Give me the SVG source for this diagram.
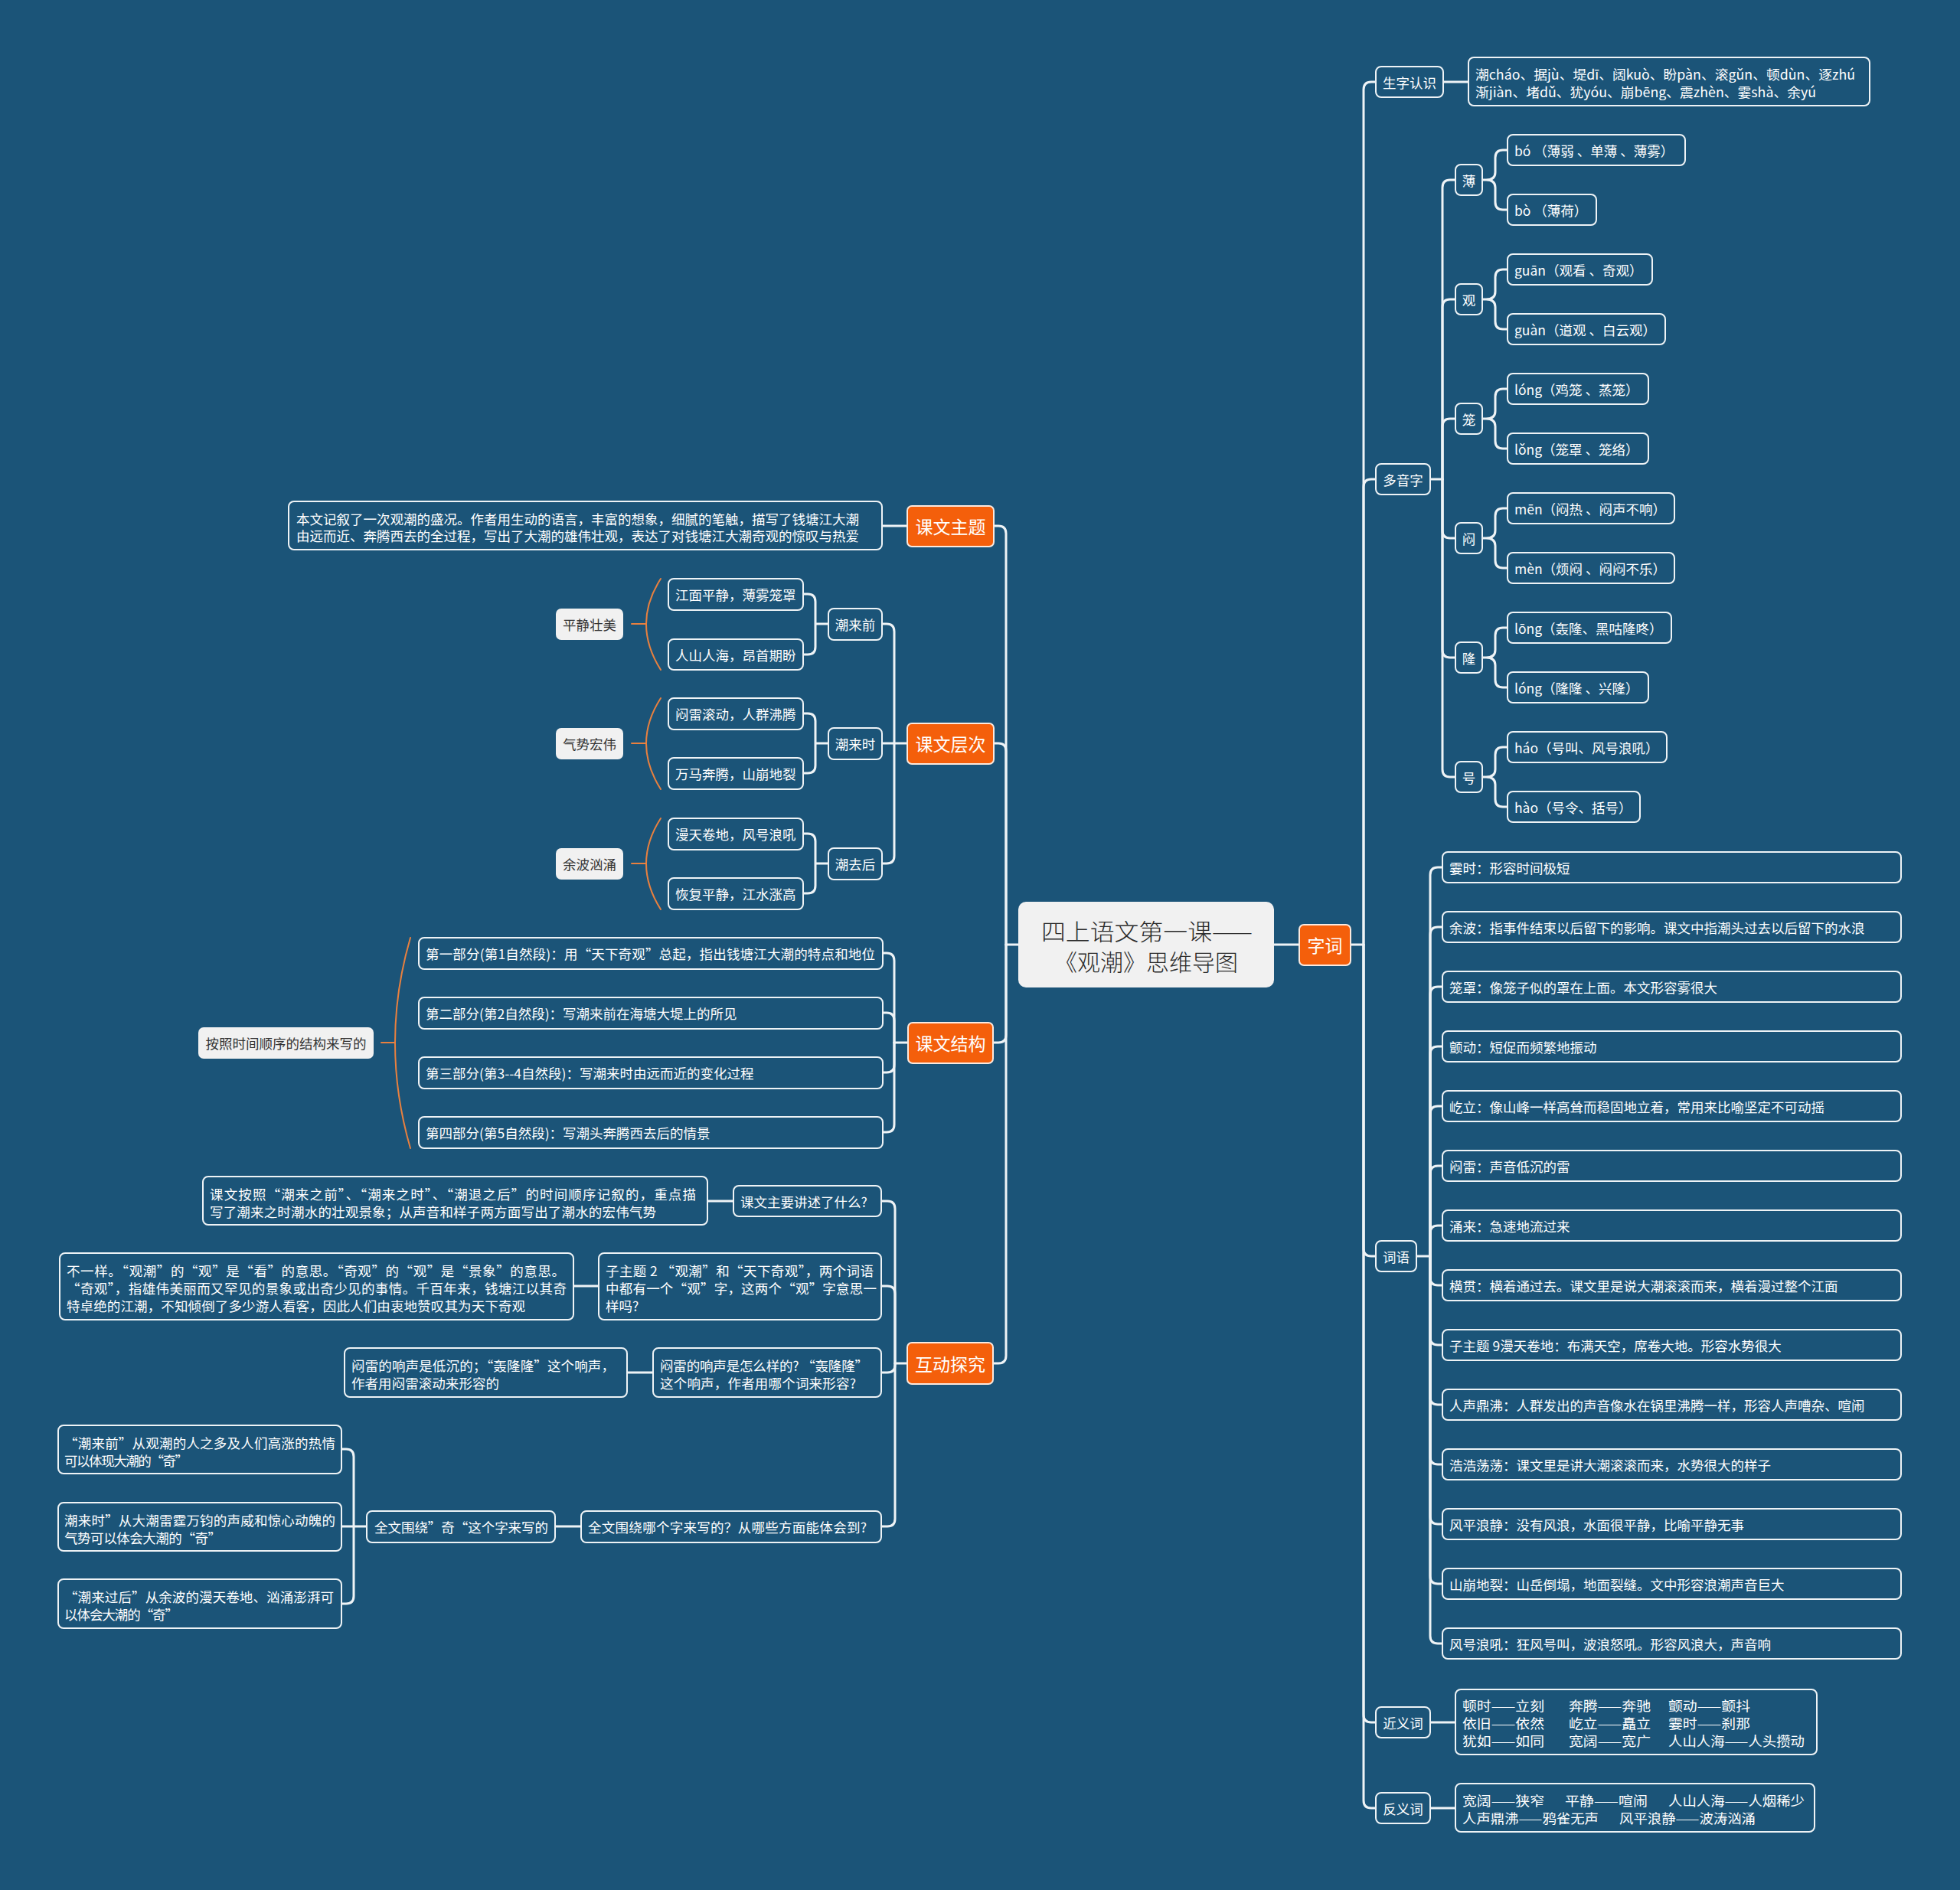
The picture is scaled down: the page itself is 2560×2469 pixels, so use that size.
<svg xmlns="http://www.w3.org/2000/svg" width="2560" height="2469" viewBox="0 0 2560 2469">
<style>
text{font-family:"Noto Sans CJK SC","Noto Sans",sans-serif;fill:#ffffff;font-size:17.5px;dominant-baseline:central}
.n{fill:#1b5478;stroke:#eef3f6;stroke-width:2}
.o{fill:#f45f0b;stroke:#fbe9de;stroke-width:2}
.w{fill:#f1f1f1}
.c{fill:#f1f1f1}
.m{text-anchor:middle}
.to{font-size:23px;text-anchor:middle}
.td{fill:#333333}
.ct{fill:#2b2b2b;font-size:30px;text-anchor:middle;font-weight:300}
#connectors path{fill:none;stroke:#eef3f6;stroke-width:3;stroke-linecap:round;stroke-linejoin:round}
#connectors path.s{stroke:#e8803f;stroke-width:2}
</style>
<rect x="0" y="0" width="2560" height="2469" fill="#1b5478"/>

<g id="connectors">
<path d="M1664,1234 H1697"/>
<path d="M1764,1234 H1781"/>
<path d="M1781,1234 V117 Q1781,107 1791,107 H1797"/>
<path d="M1781,1234 V636 Q1781,626 1791,626 H1797"/>
<path d="M1781,1234 V1631 Q1781,1641 1791,1641 H1797"/>
<path d="M1781,1234 V2240 Q1781,2250 1791,2250 H1797"/>
<path d="M1781,1234 V2352 Q1781,2362 1791,2362 H1797"/>
<path d="M1885,107 H1918"/>
<path d="M1868,626 H1884"/>
<path d="M1884,626 V245 Q1884,235 1894,235 H1901"/>
<path d="M1884,626 V401 Q1884,391 1894,391 H1901"/>
<path d="M1884,626 V557 Q1884,547 1894,547 H1901"/>
<path d="M1884,626 V693 Q1884,703 1894,703 H1901"/>
<path d="M1884,626 V849 Q1884,859 1894,859 H1901"/>
<path d="M1884,626 V1005 Q1884,1015 1894,1015 H1901"/>
<path d="M1936,235 H1941 Q1953,235 1953,225 V206 Q1953,196 1963,196 H1969 M1941,235 Q1953,235 1953,245 V264 Q1953,274 1963,274 H1969"/>
<path d="M1936,391 H1941 Q1953,391 1953,381 V362 Q1953,352 1963,352 H1969 M1941,391 Q1953,391 1953,401 V420 Q1953,430 1963,430 H1969"/>
<path d="M1936,547 H1941 Q1953,547 1953,537 V518 Q1953,508 1963,508 H1969 M1941,547 Q1953,547 1953,557 V576 Q1953,586 1963,586 H1969"/>
<path d="M1936,703 H1941 Q1953,703 1953,693 V674 Q1953,664 1963,664 H1969 M1941,703 Q1953,703 1953,713 V732 Q1953,742 1963,742 H1969"/>
<path d="M1936,859 H1941 Q1953,859 1953,849 V830 Q1953,820 1963,820 H1969 M1941,859 Q1953,859 1953,869 V888 Q1953,898 1963,898 H1969"/>
<path d="M1936,1015 H1941 Q1953,1015 1953,1005 V986 Q1953,976 1963,976 H1969 M1941,1015 Q1953,1015 1953,1025 V1044 Q1953,1054 1963,1054 H1969"/>
<path d="M1850,1641 H1868"/>
<path d="M1868,1641 V1143 Q1868,1133 1878,1133 H1884"/>
<path d="M1868,1641 V1221 Q1868,1211 1878,1211 H1884"/>
<path d="M1868,1641 V1299 Q1868,1289 1878,1289 H1884"/>
<path d="M1868,1641 V1377 Q1868,1367 1878,1367 H1884"/>
<path d="M1868,1641 V1455 Q1868,1445 1878,1445 H1884"/>
<path d="M1868,1641 V1533 Q1868,1523 1878,1523 H1884"/>
<path d="M1868,1641 V1611 Q1868,1601 1878,1601 H1884"/>
<path d="M1868,1641 V1669 Q1868,1679 1878,1679 H1884"/>
<path d="M1868,1641 V1747 Q1868,1757 1878,1757 H1884"/>
<path d="M1868,1641 V1825 Q1868,1835 1878,1835 H1884"/>
<path d="M1868,1641 V1903 Q1868,1913 1878,1913 H1884"/>
<path d="M1868,1641 V1981 Q1868,1991 1878,1991 H1884"/>
<path d="M1868,1641 V2059 Q1868,2069 1878,2069 H1884"/>
<path d="M1868,1641 V2137 Q1868,2147 1878,2147 H1884"/>
<path d="M1868,2250 H1901"/>
<path d="M1868,2362 H1901"/>
<path d="M1330,1234 H1314"/>
<path d="M1314,1234 V697 Q1314,687 1304,687 H1298"/>
<path d="M1314,1234 V981 Q1314,971 1304,971 H1298"/>
<path d="M1314,1234 V1352 Q1314,1362 1304,1362 H1298"/>
<path d="M1314,1234 V1771 Q1314,1781 1304,1781 H1298"/>
<path d="M1185,687 H1152"/>
<path d="M1185,971 H1152"/>
<path d="M1168,971 V825 Q1168,815 1158,815 H1152"/>
<path d="M1168,971 V1118 Q1168,1128 1158,1128 H1152"/>
<path d="M1082,815 H1065 M1065,815 V786 Q1065,776 1055,776 H1049 M1065,815 V845 Q1065,855 1055,855 H1049"/>
<path d="M1082,971 H1065 M1065,971 V942 Q1065,932 1055,932 H1049 M1065,971 V1000 Q1065,1010 1055,1010 H1049"/>
<path d="M1082,1128 H1065 M1065,1128 V1099 Q1065,1089 1055,1089 H1049 M1065,1128 V1157 Q1065,1167 1055,1167 H1049"/>
<path d="M1186,1362 H1168"/>
<path d="M1168,1362 V1255 Q1168,1245 1158,1245 H1153"/>
<path d="M1168,1362 V1333 Q1168,1323 1158,1323 H1153"/>
<path d="M1168,1362 V1391 Q1168,1401 1158,1401 H1153"/>
<path d="M1168,1362 V1469 Q1168,1479 1158,1479 H1153"/>
<path d="M1185,1781 H1169"/>
<path d="M1169,1781 V1579 Q1169,1569 1159,1569 H1151"/>
<path d="M1169,1781 V1690 Q1169,1680 1159,1680 H1151"/>
<path d="M1169,1781 V1783 Q1169,1793 1159,1793 H1151"/>
<path d="M1169,1781 V1984 Q1169,1994 1159,1994 H1151"/>
<path d="M958,1569 H924"/>
<path d="M782,1680 H749"/>
<path d="M853,1793 H819"/>
<path d="M759,1994 H725"/>
<path d="M479,1994 H446"/>
<path d="M462,1994 V1903 Q462,1893 452,1893 H446"/>
<path d="M462,1994 V2085 Q462,2095 452,2095 H446"/>
<path class="s" d="M863,756 Q825,815 863,875 M825,815 H844"/>
<path class="s" d="M863,912 Q825,971 863,1031 M825,971 H844"/>
<path class="s" d="M863,1069 Q825,1128 863,1188 M825,1128 H844"/>
<path class="s" d="M536,1225 Q496,1362 536,1500 M498,1362 H516"/>
</g>

<g id="center"><rect class="c" x="1330" y="1178" width="334" height="112" rx="10"/>
<text class="ct" x="1498" y="1215" textLength="276" lengthAdjust="spacingAndGlyphs">四上语文第一课——</text><text class="ct" x="1497" y="1255">《观潮》思维导图</text></g>

<g id="n-ziici"><rect class="o" x="1697" y="1208" width="67" height="53" rx="6"/><text class="to" x="1730.5" y="1234">字词</text></g>
<g id="n-shengzi"><rect class="n" x="1797" y="87" width="88" height="40" rx="7"/><text class="m" x="1841" y="107">生字认识</text></g>
<g id="n-shengzi-c"><rect class="n" x="1918" y="75" width="524" height="63" rx="7"/>
<text x="1927" y="96" textLength="496" lengthAdjust="spacingAndGlyphs">潮cháo、据jù、堤dī、阔kuò、盼pàn、滚gǔn、顿dùn、逐zhú</text>
<text x="1927" y="119" textLength="445" lengthAdjust="spacingAndGlyphs">渐jiàn、堵dǔ、犹yóu、崩bēng、震zhèn、霎shà、余yú</text></g>
<g id="n-duoyin"><rect class="n" x="1797" y="606" width="71" height="40" rx="7"/><text class="m" x="1832.5" y="626">多音字</text></g>

<g id="n-bao"><rect class="n" x="1901" y="215" width="35" height="40" rx="7"/><text class="m" x="1918.5" y="235">薄</text></g>
<g id="n-bao1"><rect class="n" x="1969" y="176" width="232" height="40" rx="7"/><text x="1978" y="196">bó （薄弱 、单薄 、薄雾）</text></g>
<g id="n-bao2"><rect class="n" x="1969" y="254" width="116" height="40" rx="7"/><text x="1978" y="274">bò （薄荷）</text></g>
<g id="n-guan"><rect class="n" x="1901" y="371" width="35" height="40" rx="7"/><text class="m" x="1918.5" y="391">观</text></g>
<g id="n-guan1"><rect class="n" x="1969" y="332" width="189" height="40" rx="7"/><text x="1978" y="352">guān（观看 、奇观）</text></g>
<g id="n-guan2"><rect class="n" x="1969" y="410" width="206" height="40" rx="7"/><text x="1978" y="430">guàn（道观 、白云观）</text></g>
<g id="n-long"><rect class="n" x="1901" y="527" width="35" height="40" rx="7"/><text class="m" x="1918.5" y="547">笼</text></g>
<g id="n-long1"><rect class="n" x="1969" y="488" width="184" height="40" rx="7"/><text x="1978" y="508">lóng（鸡笼 、蒸笼）</text></g>
<g id="n-long2"><rect class="n" x="1969" y="566" width="184" height="40" rx="7"/><text x="1978" y="586">lǒng（笼罩 、笼络）</text></g>
<g id="n-men"><rect class="n" x="1901" y="683" width="35" height="40" rx="7"/><text class="m" x="1918.5" y="703">闷</text></g>
<g id="n-men1"><rect class="n" x="1969" y="644" width="218" height="40" rx="7"/><text x="1978" y="664">mēn（闷热 、闷声不响）</text></g>
<g id="n-men2"><rect class="n" x="1969" y="722" width="218" height="40" rx="7"/><text x="1978" y="742">mèn（烦闷 、闷闷不乐）</text></g>
<g id="n-longg"><rect class="n" x="1901" y="839" width="35" height="40" rx="7"/><text class="m" x="1918.5" y="859">隆</text></g>
<g id="n-longg1"><rect class="n" x="1969" y="800" width="214" height="40" rx="7"/><text x="1978" y="820">lōng（轰隆、黑咕隆咚）</text></g>
<g id="n-longg2"><rect class="n" x="1969" y="878" width="184" height="40" rx="7"/><text x="1978" y="898">lóng（隆隆 、兴隆）</text></g>
<g id="n-hao"><rect class="n" x="1901" y="995" width="35" height="40" rx="7"/><text class="m" x="1918.5" y="1015">号</text></g>
<g id="n-hao1"><rect class="n" x="1969" y="956" width="208" height="40" rx="7"/><text x="1978" y="976">háo（号叫、风号浪吼）</text></g>
<g id="n-hao2"><rect class="n" x="1969" y="1034" width="173" height="40" rx="7"/><text x="1978" y="1054">hào（号令、括号）</text></g>

<g id="n-ciyu"><rect class="n" x="1797" y="1621" width="53" height="40" rx="7"/><text class="m" x="1823.5" y="1641">词语</text></g>
<g id="n-c1"><rect class="n" x="1884" y="1113" width="599" height="40" rx="7"/><text x="1893" y="1133">霎时：形容时间极短</text></g>
<g id="n-c2"><rect class="n" x="1884" y="1191" width="599" height="40" rx="7"/><text x="1893" y="1211">余波：指事件结束以后留下的影响。课文中指潮头过去以后留下的水浪</text></g>
<g id="n-c3"><rect class="n" x="1884" y="1269" width="599" height="40" rx="7"/><text x="1893" y="1289">笼罩：像笼子似的罩在上面。本文形容雾很大</text></g>
<g id="n-c4"><rect class="n" x="1884" y="1347" width="599" height="40" rx="7"/><text x="1893" y="1367">颤动：短促而频繁地振动</text></g>
<g id="n-c5"><rect class="n" x="1884" y="1425" width="599" height="40" rx="7"/><text x="1893" y="1445">屹立：像山峰一样高耸而稳固地立着，常用来比喻坚定不可动摇</text></g>
<g id="n-c6"><rect class="n" x="1884" y="1503" width="599" height="40" rx="7"/><text x="1893" y="1523">闷雷：声音低沉的雷</text></g>
<g id="n-c7"><rect class="n" x="1884" y="1581" width="599" height="40" rx="7"/><text x="1893" y="1601">涌来：急速地流过来</text></g>
<g id="n-c8"><rect class="n" x="1884" y="1659" width="599" height="40" rx="7"/><text x="1893" y="1679">横贯：横着通过去。课文里是说大潮滚滚而来，横着漫过整个江面</text></g>
<g id="n-c9"><rect class="n" x="1884" y="1737" width="599" height="40" rx="7"/><text x="1893" y="1757">子主题 9漫天卷地：布满天空，席卷大地。形容水势很大</text></g>
<g id="n-c10"><rect class="n" x="1884" y="1815" width="599" height="40" rx="7"/><text x="1893" y="1835">人声鼎沸：人群发出的声音像水在锅里沸腾一样，形容人声嘈杂、喧闹</text></g>
<g id="n-c11"><rect class="n" x="1884" y="1893" width="599" height="40" rx="7"/><text x="1893" y="1913">浩浩荡荡：课文里是讲大潮滚滚而来，水势很大的样子</text></g>
<g id="n-c12"><rect class="n" x="1884" y="1971" width="599" height="40" rx="7"/><text x="1893" y="1991">风平浪静：没有风浪，水面很平静，比喻平静无事</text></g>
<g id="n-c13"><rect class="n" x="1884" y="2049" width="599" height="40" rx="7"/><text x="1893" y="2069">山崩地裂：山岳倒塌，地面裂缝。文中形容浪潮声音巨大</text></g>
<g id="n-c14"><rect class="n" x="1884" y="2127" width="599" height="40" rx="7"/><text x="1893" y="2147">风号浪吼：狂风号叫，波浪怒吼。形容风浪大，声音响</text></g>

<g id="n-jinyi"><rect class="n" x="1797" y="2230" width="71" height="40" rx="7"/><text class="m" x="1832.5" y="2250">近义词</text></g>
<g id="n-jinyi-c"><rect class="n" x="1901" y="2207" width="472" height="85" rx="7"/>
<text x="1910" y="2227" textLength="107" lengthAdjust="spacingAndGlyphs">顿时——立刻</text><text x="2049" y="2227" textLength="107" lengthAdjust="spacingAndGlyphs">奔腾——奔驰</text><text x="2179" y="2227" textLength="107" lengthAdjust="spacingAndGlyphs">颤动——颤抖</text>
<text x="1910" y="2250" textLength="107" lengthAdjust="spacingAndGlyphs">依旧——依然</text><text x="2049" y="2250" textLength="107" lengthAdjust="spacingAndGlyphs">屹立——矗立</text><text x="2179" y="2250" textLength="107" lengthAdjust="spacingAndGlyphs">霎时——刹那</text>
<text x="1910" y="2273" textLength="107" lengthAdjust="spacingAndGlyphs">犹如——如同</text><text x="2049" y="2273" textLength="107" lengthAdjust="spacingAndGlyphs">宽阔——宽广</text><text x="2179" y="2273" textLength="178" lengthAdjust="spacingAndGlyphs">人山人海——人头攒动</text></g>
<g id="n-fanyi"><rect class="n" x="1797" y="2342" width="71" height="40" rx="7"/><text class="m" x="1832.5" y="2362">反义词</text></g>
<g id="n-fanyi-c"><rect class="n" x="1901" y="2330" width="469" height="63" rx="7"/>
<text x="1910" y="2351" textLength="107" lengthAdjust="spacingAndGlyphs">宽阔——狭窄</text><text x="2044" y="2351" textLength="108" lengthAdjust="spacingAndGlyphs">平静——喧闹</text><text x="2179" y="2351" textLength="178" lengthAdjust="spacingAndGlyphs">人山人海——人烟稀少</text>
<text x="1910" y="2374" textLength="178" lengthAdjust="spacingAndGlyphs">人声鼎沸——鸦雀无声</text><text x="2115" y="2374" textLength="178" lengthAdjust="spacingAndGlyphs">风平浪静——波涛汹涌</text></g>

<g id="n-zhuti"><rect class="o" x="1185" y="661" width="113" height="53" rx="6"/><text class="to" x="1241.5" y="687">课文主题</text></g>
<g id="n-zhuti-c"><rect class="n" x="377" y="655" width="775" height="63" rx="7"/>
<text x="387" y="677">本文记叙了一次观潮的盛况。作者用生动的语言，丰富的想象，细腻的笔触，描写了钱塘江大潮</text>
<text x="387" y="699">由远而近、奔腾西去的全过程，写出了大潮的雄伟壮观，表达了对钱塘江大潮奇观的惊叹与热爱</text></g>

<g id="n-cengci"><rect class="o" x="1185" y="945" width="113" height="53" rx="6"/><text class="to" x="1241.5" y="971">课文层次</text></g>
<g id="n-qian"><rect class="n" x="1082" y="795" width="70" height="41" rx="7"/><text class="m" x="1117" y="815">潮来前</text></g>
<g id="n-qian1"><rect class="n" x="873" y="756" width="176" height="41" rx="7"/><text x="882" y="776">江面平静，薄雾笼罩</text></g>
<g id="n-qian2"><rect class="n" x="873" y="835" width="176" height="40" rx="7"/><text x="882" y="855">人山人海，昂首期盼</text></g>
<g id="n-qian-s"><rect class="w" x="726" y="795" width="88" height="41" rx="7"/><text class="m td" x="770" y="815">平静壮美</text></g>
<g id="n-shi"><rect class="n" x="1082" y="951" width="70" height="41" rx="7"/><text class="m" x="1117" y="971">潮来时</text></g>
<g id="n-shi1"><rect class="n" x="873" y="912" width="176" height="41" rx="7"/><text x="882" y="932">闷雷滚动，人群沸腾</text></g>
<g id="n-shi2"><rect class="n" x="873" y="990" width="176" height="41" rx="7"/><text x="882" y="1010">万马奔腾，山崩地裂</text></g>
<g id="n-shi-s"><rect class="w" x="726" y="951" width="88" height="41" rx="7"/><text class="m td" x="770" y="971">气势宏伟</text></g>
<g id="n-hou"><rect class="n" x="1082" y="1108" width="70" height="41" rx="7"/><text class="m" x="1117" y="1128">潮去后</text></g>
<g id="n-hou1"><rect class="n" x="873" y="1069" width="176" height="41" rx="7"/><text x="882" y="1089">漫天卷地，风号浪吼</text></g>
<g id="n-hou2"><rect class="n" x="873" y="1147" width="176" height="41" rx="7"/><text x="882" y="1167">恢复平静，江水涨高</text></g>
<g id="n-hou-s"><rect class="w" x="726" y="1108" width="88" height="41" rx="7"/><text class="m td" x="770" y="1128">余波汹涌</text></g>

<g id="n-jiegou"><rect class="o" x="1186" y="1336" width="111" height="53" rx="6"/><text class="to" x="1241.5" y="1362">课文结构</text></g>
<g id="n-j1"><rect class="n" x="547" y="1225" width="606" height="41" rx="7"/><text x="556" y="1245" textLength="587">第一部分(第1自然段)：用“天下奇观”总起，指出钱塘江大潮的特点和地位</text></g>
<g id="n-j2"><rect class="n" x="547" y="1303" width="606" height="41" rx="7"/><text x="556" y="1323">第二部分(第2自然段)：写潮来前在海塘大堤上的所见</text></g>
<g id="n-j3"><rect class="n" x="547" y="1381" width="606" height="41" rx="7"/><text x="556" y="1401">第三部分(第3--4自然段)：写潮来时由远而近的变化过程</text></g>
<g id="n-j4"><rect class="n" x="547" y="1459" width="606" height="41" rx="7"/><text x="556" y="1479">第四部分(第5自然段)：写潮头奔腾西去后的情景</text></g>
<g id="n-j-s"><rect class="w" x="259" y="1342" width="229" height="41" rx="7"/><text class="m td" x="373.5" y="1362">按照时间顺序的结构来写的</text></g>

<g id="n-hudong"><rect class="o" x="1185" y="1754" width="112" height="54" rx="6"/><text class="to" x="1241" y="1781">互动探究</text></g>
<g id="n-q1"><rect class="n" x="958" y="1549" width="193" height="40" rx="7"/><text x="967" y="1569">课文主要讲述了什么?</text></g>
<g id="n-a1"><rect class="n" x="265" y="1537" width="659" height="63" rx="7"/>
<text x="274" y="1559" textLength="635">课文按照“潮来之前”、“潮来之时”、“潮退之后”的时间顺序记叙的，重点描</text>
<text x="274" y="1582" textLength="583">写了潮来之时潮水的壮观景象；从声音和样子两方面写出了潮水的宏伟气势</text></g>
<g id="n-q2"><rect class="n" x="782" y="1637" width="369" height="87" rx="7"/>
<text x="791" y="1659" textLength="350">子主题 2 “观潮”和“天下奇观”，两个词语</text>
<text x="791" y="1682" textLength="354">中都有一个“观”字，这两个“观”字意思一</text>
<text x="791" y="1705">样吗?</text></g>
<g id="n-a2"><rect class="n" x="78" y="1637" width="671" height="87" rx="7"/>
<text x="87" y="1659" textLength="651">不一样。“观潮”的“观”是“看”的意思。“奇观”的“观”是“景象”的意思。</text>
<text x="87" y="1682" textLength="653">“奇观”，指雄伟美丽而又罕见的景象或出奇少见的事情。千百年来，钱塘江以其奇</text>
<text x="87" y="1705" textLength="599">特卓绝的江潮，不知倾倒了多少游人看客，因此人们由衷地赞叹其为天下奇观</text></g>
<g id="n-q3"><rect class="n" x="853" y="1761" width="298" height="64" rx="7"/>
<text x="862" y="1783" textLength="272">闷雷的响声是怎么样的? “轰隆隆”</text>
<text x="862" y="1806" textLength="256">这个响声，作者用哪个词来形容?</text></g>
<g id="n-a3"><rect class="n" x="450" y="1761" width="369" height="64" rx="7"/>
<text x="459" y="1783" textLength="344">闷雷的响声是低沉的；“轰隆隆”这个响声，</text>
<text x="459" y="1806" textLength="193">作者用闷雷滚动来形容的</text></g>
<g id="n-q4"><rect class="n" x="759" y="1974" width="392" height="41" rx="7"/><text x="768" y="1994" textLength="364">全文围绕哪个字来写的？从哪些方面能体会到?</text></g>
<g id="n-a4"><rect class="n" x="479" y="1974" width="246" height="41" rx="7"/><text x="489" y="1994" textLength="227">全文围绕”奇“这个字来写的</text></g>
<g id="n-a4-1"><rect class="n" x="76" y="1862" width="370" height="63" rx="7"/>
<text x="84" y="1884" textLength="354">“潮来前”从观潮的人之多及人们高涨的热情</text>
<text x="84" y="1907" textLength="162">可以体现大潮的“奇”</text></g>
<g id="n-a4-2"><rect class="n" x="76" y="1963" width="370" height="63" rx="7"/>
<text x="84" y="1985" textLength="354">潮来时”从大潮雷霆万钧的声威和惊心动魄的</text>
<text x="84" y="2008" textLength="205">气势可以体会大潮的“奇”</text></g>
<g id="n-a4-3"><rect class="n" x="76" y="2063" width="370" height="64" rx="7"/>
<text x="84" y="2085" textLength="352">“潮来过后”从余波的漫天卷地、汹涌澎湃可</text>
<text x="84" y="2108" textLength="149">以体会大潮的“奇”</text></g>
</svg>
